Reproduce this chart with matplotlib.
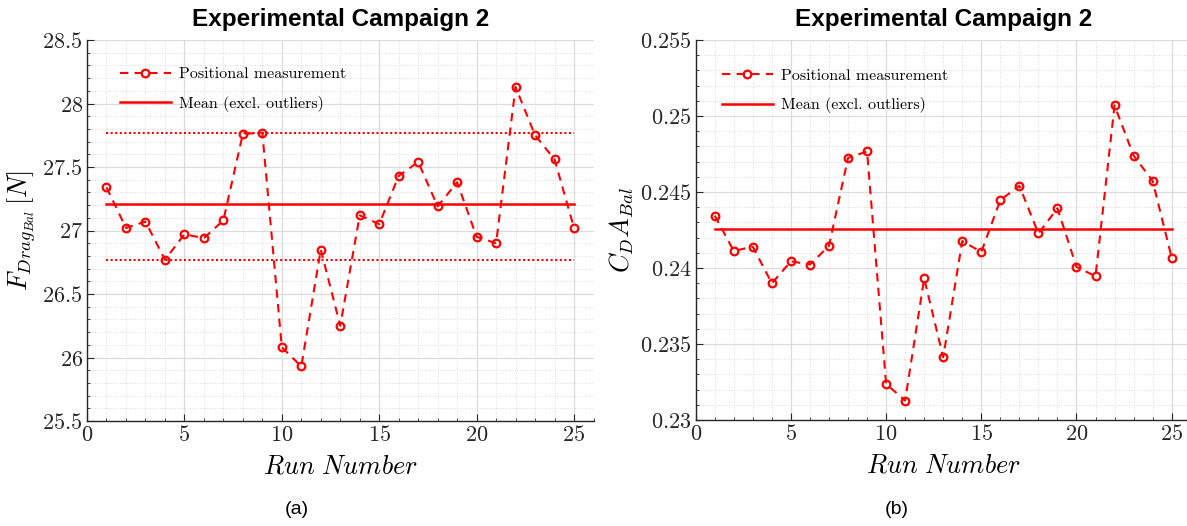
import numpy as np
import matplotlib
matplotlib.use("Agg")
import matplotlib.pyplot as plt
from matplotlib.ticker import MultipleLocator, FuncFormatter

plt.rcParams['mathtext.fontset'] = 'cm'
plt.rcParams['axes.unicode_minus'] = False

runs = list(range(1, 26))

drag_force = [27.34, 27.02, 27.07, 26.77, 26.97, 26.94, 27.08, 27.76, 27.77, 26.08,
              25.93, 26.85, 26.25, 27.12, 27.05, 27.43, 27.54, 27.19, 27.38, 26.95,
              26.90, 28.13, 27.75, 27.56, 27.02]
drag_mean = 27.21
drag_upper = 27.77
drag_lower = 26.77

cda = [0.24345, 0.24112, 0.24140, 0.23899, 0.24044, 0.24023, 0.24145, 0.24724,
       0.24767, 0.23237, 0.23128, 0.23931, 0.23413, 0.24177, 0.24105, 0.24447,
       0.24541, 0.24227, 0.24393, 0.24007, 0.23946, 0.25070, 0.24739, 0.24573,
       0.24068]
cda_mean = 0.24256

title_text = "Experimental Campaign 2"
legend_labels = ["Positional measurement", "Mean (excl. outliers)"]

RED = '#ff0000'
W, H = 1187, 526
fig = plt.figure(figsize=(W / 100, H / 100), dpi=100)


def px_axes(x0, x1, y_top, y_bot):
    return fig.add_axes([x0 / W, 1 - y_bot / H, (x1 - x0) / W, (y_bot - y_top) / H])


def style_axes(ax, ylim, major, minor, fmt):
    ax.set_xlim(0, 26)
    ax.set_ylim(*ylim)
    ax.xaxis.set_major_locator(MultipleLocator(5))
    ax.xaxis.set_minor_locator(MultipleLocator(1))
    ax.yaxis.set_major_locator(MultipleLocator(major))
    ax.yaxis.set_minor_locator(MultipleLocator(minor))
    ax.yaxis.set_major_formatter(FuncFormatter(fmt))
    ax.xaxis.set_major_formatter(FuncFormatter(lambda v, p: r'$%d$' % round(v)))
    ax.grid(which='major', color='#dcdcdc', lw=0.9, ls='-')
    ax.grid(which='minor', color='#d0d0d0', lw=0.6, ls=(0, (1, 2)))
    ax.set_axisbelow(True)
    for s in ('top', 'right'):
        ax.spines[s].set_visible(False)
    for s in ('left', 'bottom'):
        ax.spines[s].set_color('#262626')
        ax.spines[s].set_linewidth(1.0)
    ax.tick_params(which='both', direction='in', color='#262626', labelsize=16,
                   labelcolor='#262626')
    ax.tick_params(which='major', length=5, width=0.8, pad=3)
    ax.tick_params(which='minor', length=2.5, width=0.6)
    ax.set_title(title_text, fontsize=17.5, fontweight='bold',
                 family='Liberation Sans', pad=10)
    ax.set_xlabel(r'$Run\ Number$', fontsize=19, labelpad=6)


def trim(v):
    s = ('%.3f' % v).rstrip('0').rstrip('.')
    return r'$%s$' % s


def draw_series(ax, values):
    ax.plot(runs, values, ls='--', color=RED, lw=1.5, marker='o', ms=5.5,
            mfc='none', mec=RED, mew=1.6, dashes=(4, 3), label=legend_labels[0])


def draw_level(ax, value, **kw):
    ax.plot([runs[0], runs[-1]], [value, value], color=RED, **kw)


# (a) drag force
ax1 = px_axes(87, 593.5, 40, 421)
style_axes(ax1, (25.5, 28.5), 0.5, 0.1, lambda v, p: trim(v))
draw_series(ax1, drag_force)
draw_level(ax1, drag_mean, lw=1.8, label=legend_labels[1])
draw_level(ax1, drag_upper, lw=1.5, ls=(0, (1, 1.2)))
draw_level(ax1, drag_lower, lw=1.5, ls=(0, (1, 1.2)))
ax1.set_ylabel(r'$F_{Drag_{Bal}}\,[N]$', fontsize=19, labelpad=3)

# (b) drag area
ax2 = px_axes(695.7, 1190.7, 40, 420)
style_axes(ax2, (0.23, 0.255), 0.005, 0.001, lambda v, p: trim(v))
draw_series(ax2, cda)
draw_level(ax2, cda_mean, lw=1.8, label=legend_labels[1])
ax2.set_ylabel(r'$C_DA_{Bal}$', fontsize=19, labelpad=3)

for ax, anchor in ((ax1, (0.065, 0.929)), (ax2, (0.053, 0.924))):
    ax.legend(loc='upper left', frameon=False, prop={'family': 'cmr10', 'size': 11.5},
              bbox_to_anchor=anchor, handlelength=3.2, labelspacing=0.9,
              borderaxespad=0.0, borderpad=0.0, handletextpad=0.5)

fig.text(297 / W, 1 - 510 / H, '(a)', ha='center', va='center', fontsize=14,
         family='Liberation Sans')
fig.text(897 / W, 1 - 510 / H, '(b)', ha='center', va='center', fontsize=14,
         family='Liberation Sans')

fig.savefig('out.png', dpi=100)
